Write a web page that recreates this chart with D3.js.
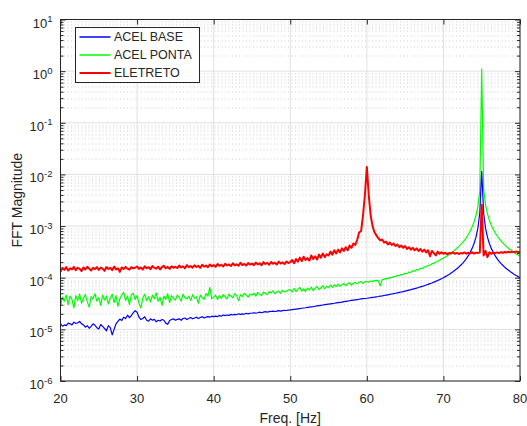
<!DOCTYPE html>
<html>
<head>
<meta charset="utf-8">
<script src="https://cdn.jsdelivr.net/npm/d3@7"></script>
<style>
  body { margin: 0; background: #fff; }
  text { font-family: "Liberation Sans", Arial, sans-serif; fill: #262626; }
</style>
</head>
<body>
<div id="main"></div>
<script>

// frequency grid: 20..80 Hz, 0.25 Hz per sample
var freqStart = 20, freqStep = 0.25, nSamples = 241;
var freq = d3.range(nSamples).map(i => freqStart + i * freqStep);

var xTicks = [20, 30, 40, 50, 60, 70, 80];
var yDecades = [-6, -5, -4, -3, -2, -1, 0, 1];
var seriesNames = ["ACEL BASE", "ACEL PONTA", "ELETRETO"];

// ACEL BASE (blue)
var acelBase = [
  1.30e-5, 1.15e-5, 1.22e-5, 1.18e-5, 1.32e-5, 1.28e-5, 1.22e-5, 1.38e-5, 1.30e-5, 1.34e-5, 1.42e-5, 1.28e-5, 1.22e-5, 1.10e-5, 1.18e-5, 1.05e-5, 1.14e-5, 1.28e-5, 1.20e-5, 1.08e-5,
  1.02e-5, 1.24e-5, 1.14e-5, 1.04e-5, 0.94e-5, 1.18e-5, 1.08e-5, 0.78e-5, 1.00e-5, 1.28e-5, 1.42e-5, 1.58e-5, 1.48e-5, 1.72e-5, 1.62e-5, 1.88e-5, 1.68e-5, 1.84e-5, 2.10e-5, 2.30e-5,
  2.15e-5, 1.72e-5, 1.55e-5, 1.62e-5, 1.75e-5, 1.50e-5, 1.44e-5, 1.60e-5, 1.50e-5, 1.56e-5, 1.40e-5, 1.50e-5, 1.45e-5, 1.55e-5, 1.50e-5, 1.32e-5, 1.25e-5, 1.48e-5, 1.55e-5, 1.60e-5,
  1.50e-5, 1.56e-5, 1.60e-5, 1.50e-5, 1.62e-5, 1.66e-5, 1.55e-5, 1.62e-5, 1.70e-5, 1.60e-5, 1.66e-5, 1.72e-5, 1.62e-5, 1.70e-5, 1.76e-5, 1.66e-5, 1.72e-5, 1.76e-5, 1.72e-5, 1.80e-5,
  1.76e-5, 1.80e-5, 1.76e-5, 1.86e-5, 1.80e-5, 1.90e-5, 1.85e-5, 1.90e-5, 1.86e-5, 1.95e-5, 1.90e-5, 1.95e-5, 1.92e-5, 2.00e-5, 1.95e-5, 2.00e-5, 1.96e-5, 2.05e-5, 2.00e-5, 2.05e-5,
  2.05e-5, 2.10e-5, 2.06e-5, 2.10e-5, 2.15e-5, 2.10e-5, 2.15e-5, 2.20e-5, 2.16e-5, 2.20e-5, 2.22e-5, 2.25e-5, 2.22e-5, 2.26e-5, 2.30e-5, 2.26e-5, 2.30e-5, 2.34e-5, 2.32e-5, 2.36e-5,
  2.38e-5, 2.41e-5, 2.44e-5, 2.47e-5, 2.50e-5, 2.53e-5, 2.56e-5, 2.59e-5, 2.62e-5, 2.66e-5, 2.70e-5, 2.73e-5, 2.76e-5, 2.80e-5, 2.84e-5, 2.88e-5, 2.92e-5, 2.96e-5, 3.00e-5, 3.04e-5,
  3.08e-5, 3.12e-5, 3.16e-5, 3.20e-5, 3.25e-5, 3.30e-5, 3.34e-5, 3.38e-5, 3.43e-5, 3.48e-5, 3.53e-5, 3.58e-5, 3.63e-5, 3.68e-5, 3.73e-5, 3.78e-5, 3.83e-5, 3.88e-5, 3.92e-5, 3.96e-5,
  4.00e-5, 4.05e-5, 4.10e-5, 4.16e-5, 4.21e-5, 4.27e-5, 4.33e-5, 4.40e-5, 4.46e-5, 4.53e-5, 4.60e-5, 4.67e-5, 4.75e-5, 4.83e-5, 4.91e-5, 5.00e-5, 5.09e-5, 5.19e-5, 5.29e-5, 5.39e-5,
  5.50e-5, 5.62e-5, 5.74e-5, 5.86e-5, 6.00e-5, 6.14e-5, 6.29e-5, 6.45e-5, 6.63e-5, 6.81e-5, 7.00e-5, 7.21e-5, 7.43e-5, 7.67e-5, 7.92e-5, 8.20e-5, 8.50e-5, 8.83e-5, 9.18e-5, 9.57e-5,
  1.00e-4, 1.05e-4, 1.10e-4, 1.16e-4, 1.23e-4, 1.30e-4, 1.39e-4, 1.49e-4, 1.60e-4, 1.74e-4, 1.90e-4, 2.10e-4, 2.35e-4, 2.67e-4, 3.10e-4, 3.70e-4, 4.60e-4, 6.10e-4, 9.10e-4, 1.81e-3,
  1.15e-2,
  1.81e-3, 9.10e-4, 6.10e-4, 4.60e-4, 3.70e-4, 3.10e-4, 2.67e-4, 2.35e-4, 2.10e-4, 1.90e-4, 1.74e-4, 1.60e-4, 1.49e-4, 1.39e-4, 1.30e-4, 1.23e-4, 1.16e-4, 1.10e-4, 1.05e-4, 1.00e-4
];

// ACEL PONTA (green)
var acelPonta = [
  2.8e-5, 4.2e-5, 3.5e-5, 4.6e-5, 3.0e-5, 4.4e-5, 3.8e-5, 2.6e-5, 4.5e-5, 3.6e-5, 4.8e-5, 3.2e-5, 4.0e-5, 4.7e-5, 3.4e-5, 2.7e-5, 4.3e-5, 3.9e-5, 4.9e-5, 3.5e-5,
  4.1e-5, 2.9e-5, 4.6e-5, 3.7e-5, 4.4e-5, 3.1e-5, 4.0e-5, 4.8e-5, 3.3e-5, 4.5e-5, 2.8e-5, 3.9e-5, 4.6e-5, 5.2e-5, 3.6e-5, 4.4e-5, 3.0e-5, 4.7e-5, 5.0e-5, 3.8e-5,
  4.5e-5, 3.2e-5, 2.6e-5, 4.1e-5, 4.8e-5, 3.6e-5, 4.3e-5, 3.4e-5, 4.6e-5, 3.9e-5, 5.1e-5, 3.5e-5, 4.2e-5, 2.9e-5, 4.4e-5, 3.8e-5, 4.9e-5, 3.3e-5, 4.5e-5, 4.0e-5,
  3.7e-5, 4.6e-5, 4.2e-5, 3.5e-5, 4.8e-5, 4.1e-5, 3.9e-5, 4.4e-5, 3.6e-5, 4.7e-5, 4.0e-5, 4.3e-5, 3.2e-5, 4.6e-5, 4.1e-5, 3.8e-5, 4.9e-5, 4.4e-5, 6.5e-5, 3.9e-5,
  4.2e-5, 4.6e-5, 3.8e-5, 4.5e-5, 4.0e-5, 4.7e-5, 4.3e-5, 3.9e-5, 4.8e-5, 4.4e-5, 4.1e-5, 4.9e-5, 4.5e-5, 3.6e-5, 4.7e-5, 4.3e-5, 5.0e-5, 4.6e-5, 4.2e-5, 4.8e-5,
  4.6e-5, 5.0e-5, 4.4e-5, 5.2e-5, 4.8e-5, 4.5e-5, 5.3e-5, 5.0e-5, 4.7e-5, 5.4e-5, 5.1e-5, 5.6e-5, 4.9e-5, 5.3e-5, 5.5e-5, 5.0e-5, 5.7e-5, 5.3e-5, 5.5e-5, 5.8e-5,
  5.8e-5, 5.3e-5, 6.2e-5, 5.4e-5, 6.0e-5, 6.5e-5, 5.5e-5, 6.1e-5, 5.4e-5, 6.3e-5, 5.8e-5, 6.6e-5, 5.6e-5, 6.2e-5, 6.8e-5, 5.9e-5, 6.4e-5, 7.0e-5, 6.1e-5, 6.8e-5,
  6.4e-5, 7.2e-5, 6.5e-5, 7.3e-5, 6.7e-5, 7.5e-5, 6.8e-5, 7.3e-5, 7.7e-5, 7.0e-5, 7.6e-5, 8.0e-5, 7.2e-5, 7.8e-5, 8.1e-5, 7.6e-5, 8.2e-5, 8.4e-5, 7.8e-5, 8.4e-5,
  8.4e-5, 8.2e-5, 8.6e-5, 8.5e-5, 8.8e-5, 8.9e-5, 8.7e-5, 7.0e-5, 9.2e-5, 9.3e-5, 9.7e-5, 9.6e-5, 1.01e-4, 1.00e-4, 1.05e-4, 1.06e-4, 1.10e-4, 1.11e-4, 1.15e-4, 1.16e-4,
  1.22e-4, 1.20e-4, 1.29e-4, 1.27e-4, 1.36e-4, 1.34e-4, 1.44e-4, 1.42e-4, 1.53e-4, 1.50e-4, 1.62e-4, 1.64e-4, 1.73e-4, 1.76e-4, 1.85e-4, 1.92e-4, 2.00e-4, 2.09e-4, 2.18e-4, 2.29e-4,
  2.40e-4, 2.53e-4, 2.67e-4, 2.82e-4, 3.00e-4, 3.20e-4, 3.43e-4, 3.69e-4, 4.00e-4, 4.36e-4, 4.80e-4, 5.33e-4, 6.00e-4, 6.86e-4, 8.00e-4, 9.60e-4, 1.20e-3, 1.60e-3, 2.40e-3, 4.80e-3,
  1.10,
  5.20e-3, 2.60e-3, 1.73e-3, 1.30e-3, 1.04e-3, 8.67e-4, 7.43e-4, 6.50e-4, 5.78e-4, 5.20e-4, 4.73e-4, 4.33e-4, 4.00e-4, 3.71e-4, 3.47e-4, 3.25e-4, 3.06e-4, 2.89e-4, 2.74e-4, 2.60e-4
];

// ELETRETO (red)
var eletreto = [
  1.30e-4, 1.55e-4, 1.42e-4, 1.60e-4, 1.38e-4, 1.52e-4, 1.45e-4, 1.62e-4, 1.40e-4, 1.56e-4, 1.48e-4, 1.35e-4, 1.58e-4, 1.44e-4, 1.63e-4, 1.50e-4, 1.38e-4, 1.55e-4, 1.47e-4, 1.60e-4,
  1.42e-4, 1.57e-4, 1.50e-4, 1.36e-4, 1.61e-4, 1.48e-4, 1.55e-4, 1.40e-4, 1.64e-4, 1.45e-4, 1.52e-4, 1.30e-4, 1.58e-4, 1.47e-4, 1.62e-4, 1.50e-4, 1.43e-4, 1.60e-4, 1.52e-4, 1.56e-4,
  1.65e-4, 1.48e-4, 1.58e-4, 1.44e-4, 1.66e-4, 1.53e-4, 1.60e-4, 1.46e-4, 1.68e-4, 1.55e-4, 1.50e-4, 1.64e-4, 1.45e-4, 1.60e-4, 1.70e-4, 1.52e-4, 1.62e-4, 1.48e-4, 1.67e-4, 1.56e-4,
  1.63e-4, 1.54e-4, 1.72e-4, 1.58e-4, 1.66e-4, 1.52e-4, 1.75e-4, 1.60e-4, 1.68e-4, 1.57e-4, 1.74e-4, 1.62e-4, 1.70e-4, 1.55e-4, 1.78e-4, 1.64e-4, 1.72e-4, 1.60e-4, 1.80e-4, 1.66e-4,
  1.76e-4, 1.62e-4, 1.84e-4, 1.70e-4, 1.78e-4, 1.65e-4, 1.86e-4, 1.73e-4, 1.80e-4, 1.68e-4, 1.90e-4, 1.74e-4, 1.82e-4, 1.70e-4, 1.95e-4, 1.76e-4, 1.85e-4, 1.72e-4, 1.92e-4, 1.80e-4,
  1.88e-4, 1.75e-4, 1.96e-4, 1.82e-4, 1.90e-4, 1.74e-4, 2.00e-4, 1.85e-4, 1.94e-4, 1.78e-4, 2.02e-4, 1.86e-4, 1.95e-4, 1.80e-4, 2.05e-4, 1.88e-4, 1.98e-4, 1.84e-4, 2.06e-4, 1.92e-4,
  2.00e-4, 2.20e-4, 1.90e-4, 2.30e-4, 2.05e-4, 2.45e-4, 2.10e-4, 2.55e-4, 2.20e-4, 2.40e-4, 2.15e-4, 2.70e-4, 2.30e-4, 2.60e-4, 2.25e-4, 2.80e-4, 2.45e-4, 2.95e-4, 2.50e-4, 2.85e-4,
  2.70e-4, 3.20e-4, 2.80e-4, 3.40e-4, 2.95e-4, 3.50e-4, 3.10e-4, 3.70e-4, 3.30e-4, 3.90e-4, 3.40e-4, 4.20e-4, 3.80e-4, 4.60e-4, 4.30e-4, 5.50e-4, 7.50e-4, 8.00e-4, 1.60e-3, 4.00e-3,
  1.40e-2,
  4.00e-3, 1.60e-3, 1.00e-3, 7.60e-4, 6.60e-4, 5.80e-4, 5.30e-4, 5.50e-4, 4.80e-4, 5.00e-4, 4.40e-4, 4.80e-4, 4.30e-4, 4.60e-4, 4.10e-4, 4.40e-4, 3.90e-4, 4.20e-4, 3.80e-4,
  4.10e-4, 3.60e-4, 3.90e-4, 3.50e-4, 3.80e-4, 3.40e-4, 3.70e-4, 3.30e-4, 3.60e-4, 3.20e-4, 3.50e-4, 3.10e-4, 3.40e-4, 2.60e-4, 3.30e-4, 3.00e-4, 2.70e-4, 3.20e-4, 2.90e-4, 3.10e-4,
  2.90e-4, 3.05e-4, 2.85e-4, 3.00e-4, 2.95e-4, 3.10e-4, 2.90e-4, 3.02e-4, 2.88e-4, 3.00e-4, 2.95e-4, 3.08e-4, 2.92e-4, 3.04e-4, 2.96e-4, 3.10e-4, 2.94e-4, 3.06e-4, 3.00e-4, 3.10e-4,
  2.60e-3,
  2.70e-4, 3.30e-4, 2.50e-4, 3.10e-4, 2.90e-4, 3.05e-4, 3.00e-4, 3.10e-4, 3.00e-4, 3.12e-4, 3.05e-4, 3.15e-4, 3.08e-4, 3.18e-4, 3.10e-4, 3.20e-4, 3.12e-4, 3.22e-4, 3.15e-4, 3.20e-4
];

var margin = { top: 19.5, right: 7, bottom: 45, left: 60.5 },
  width = 527 - margin.left - margin.right,
  height = 426 - margin.top - margin.bottom;

var svg = d3.select('#main')
  .append("svg")
  .attr('width', 527)
  .attr('height', 426)
  .append("g")
  .attr("transform", "translate(" + margin.left + "," + margin.top + ")");

var xScale = d3.scaleLinear().domain([20, 80]).range([0, width]);
var yScale = d3.scaleLog().domain([1e-6, 1e1]).range([height, 0]);

var majorY = yDecades.map(e => Math.pow(10, e));
var minorY = yScale.ticks().filter(v => majorY.every(m => Math.abs(v / m - 1) > 1e-6));

// grid
var grid = svg.append("g");
grid.selectAll(".minor").data(minorY).enter().append("line")
  .attr("x1", 0).attr("x2", width)
  .attr("y1", d => Math.round(yScale(d)) + 0.5).attr("y2", d => Math.round(yScale(d)) + 0.5)
  .attr("stroke", "#cfcfcf").attr("stroke-dasharray", "1,2.5");
grid.selectAll(".majy").data(majorY).enter().append("line")
  .attr("x1", 0).attr("x2", width)
  .attr("y1", d => yScale(d)).attr("y2", d => yScale(d))
  .attr("stroke", "#e0e0e0");
grid.selectAll(".majx").data(xTicks).enter().append("line")
  .attr("x1", d => xScale(d)).attr("x2", d => xScale(d))
  .attr("y1", 0).attr("y2", height)
  .attr("stroke", "#e0e0e0");

// series
var colors = ["#0000ff", "#00ff00", "#ff0000"];
var widths = [1.2, 1.2, 2];
var allSeries = [acelBase, acelPonta, eletreto];

var line = d3.line()
  .x((d, i) => xScale(freq[i]))
  .y(d => yScale(d));

svg.append("clipPath").attr("id", "clip")
  .append("rect").attr("width", width).attr("height", height);

var plotG = svg.append("g").attr("clip-path", "url(#clip)");
[1, 0, 2].forEach(k => {
  plotG.append("path")
    .datum(allSeries[k])
    .attr("fill", "none")
    .attr("stroke", colors[k])
    .attr("stroke-width", widths[k])
    .attr("stroke-linejoin", "round")
    .attr("d", line);
});

// axes (ticks inward on all sides)
var axisColor = "#262626";
function styleAxis(g) {
  g.select(".domain").remove();
  g.selectAll("line").attr("stroke", axisColor);
}

svg.append("g").attr("transform", "translate(0," + height + ")")
  .call(d3.axisBottom(xScale).tickValues(xTicks).tickSize(-5).tickFormat(""))
  .call(styleAxis);
svg.append("g")
  .call(d3.axisTop(xScale).tickValues(xTicks).tickSize(-5).tickFormat(""))
  .call(styleAxis);
svg.append("g")
  .call(d3.axisLeft(yScale).tickValues(majorY).tickSize(-5).tickFormat(""))
  .call(styleAxis);
svg.append("g")
  .call(d3.axisLeft(yScale).tickValues(minorY).tickSize(-3).tickFormat(""))
  .call(styleAxis);
svg.append("g").attr("transform", "translate(" + width + ",0)")
  .call(d3.axisRight(yScale).tickValues(majorY).tickSize(-5).tickFormat(""))
  .call(styleAxis);
svg.append("g").attr("transform", "translate(" + width + ",0)")
  .call(d3.axisRight(yScale).tickValues(minorY).tickSize(-3).tickFormat(""))
  .call(styleAxis);

svg.append("rect")
  .attr("width", width).attr("height", height)
  .attr("fill", "none").attr("stroke", axisColor).attr("stroke-width", 1);

// tick labels
svg.selectAll(".xlab").data(xTicks).enter().append("text")
  .attr("x", d => xScale(d))
  .attr("y", height + 21.5)
  .attr("text-anchor", "middle")
  .style("font-size", "13px")
  .text(d => d);

var ylab = svg.selectAll(".ylab").data(yDecades).enter().append("text")
  .attr("x", -8)
  .attr("y", d => yScale(Math.pow(10, d)) + 8)
  .attr("text-anchor", "end")
  .style("font-size", "13px");
ylab.append("tspan").text("10");
ylab.append("tspan").attr("dy", -5.5).style("font-size", "9.5px").text(d => d);

// axis titles
svg.append("text")
  .attr("transform", "rotate(-90)")
  .attr("x", -height / 2)
  .attr("y", -margin.left + 22)
  .attr("text-anchor", "middle")
  .style("font-size", "14px")
  .text("FFT Magnitude");

svg.append("text")
  .attr("x", width / 2)
  .attr("y", height + 42)
  .attr("text-anchor", "middle")
  .style("font-size", "14px")
  .text("Freq. [Hz]");

// legend
var legend = svg.append("g").attr("transform", "translate(15,8)");
legend.append("rect")
  .attr("width", 124).attr("height", 55)
  .attr("fill", "#fff").attr("stroke", "#262626").attr("stroke-width", 1);

var entries = legend.selectAll(".legend").data(seriesNames).enter().append("g")
  .attr("transform", (d, i) => "translate(0," + (9.5 + i * 18) + ")");
entries.append("line")
  .attr("x1", 4).attr("x2", 35)
  .attr("stroke", (d, i) => colors[i])
  .attr("stroke-width", (d, i) => i === 2 ? 2 : 1.5);
entries.append("text")
  .attr("x", 38.5)
  .attr("dy", "0.35em")
  .style("font-size", "12.5px")
  .text(d => d);

</script>
</body>
</html>
